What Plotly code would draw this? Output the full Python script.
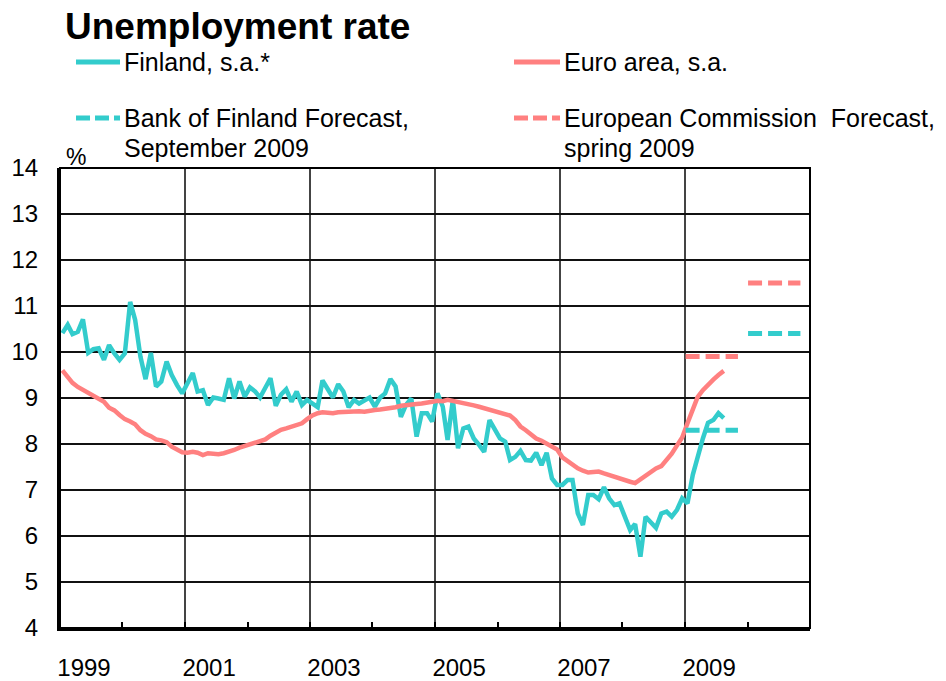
import numpy as np
import pandas as pd
import plotly.graph_objects as go

# Monthly unemployment rates, Jan 1999 - Aug 2009 (%)
finland = [
    10.41, 10.59, 10.39, 10.44, 10.71, 9.98, 10.06, 10.08, 9.83, 10.15, 9.97, 9.83,
    9.97, 11.09, 10.70, 9.90, 9.41, 9.98, 9.25, 9.36, 9.79, 9.50, 9.28, 9.10,
    9.32, 9.54, 9.14, 9.17, 8.85, 9.01, 8.99, 8.96, 9.43, 8.99, 9.36, 9.03,
    9.23, 9.14, 9.01, 9.25, 9.43, 8.83, 9.07, 9.19, 8.92, 9.14, 8.85, 8.96,
    8.88, 8.80, 9.38, 9.17, 9.01, 9.30, 9.14, 8.80, 8.96, 8.88, 8.96, 9.01,
    8.81, 9.01, 9.10, 9.41, 9.25, 8.59, 8.85, 8.99, 8.16, 8.67, 8.67, 8.49,
    9.10, 8.81, 8.09, 8.96, 7.91, 8.34, 8.38, 8.12, 7.98, 7.83, 8.52, 8.30,
    8.12, 8.05, 7.65, 7.72, 7.85, 7.65, 7.64, 7.81, 7.54, 7.81, 7.25, 7.11,
    7.11, 7.22, 7.22, 6.49, 6.24, 6.89, 6.89, 6.80, 7.06, 6.82, 6.67, 6.71,
    6.42, 6.13, 6.26, 5.55, 6.42, 6.28, 6.18, 6.49, 6.53, 6.42, 6.57, 6.82,
    6.71, 7.33, 7.72, 8.12, 8.46, 8.52, 8.67, 8.56,
]
euro_area = [
    9.60, 9.45, 9.33, 9.24, 9.18, 9.12, 9.05, 8.99, 8.92, 8.79, 8.73, 8.63,
    8.54, 8.49, 8.43, 8.30, 8.22, 8.17, 8.10, 8.08, 8.04, 7.94, 7.88, 7.82,
    7.81, 7.83, 7.81, 7.76, 7.80, 7.79, 7.78, 7.80, 7.83, 7.87, 7.92, 7.96,
    8.00, 8.04, 8.06, 8.10, 8.18, 8.26, 8.31, 8.34, 8.37, 8.40, 8.45, 8.54,
    8.62, 8.67, 8.69, 8.68, 8.67, 8.69, 8.70, 8.70, 8.72, 8.71, 8.70, 8.73,
    8.74, 8.75, 8.76, 8.78, 8.80, 8.83, 8.85, 8.87, 8.87, 8.88, 8.89, 8.92,
    8.94, 8.93, 8.96, 8.94, 8.92, 8.90, 8.87, 8.84, 8.81, 8.78, 8.75, 8.71,
    8.68, 8.64, 8.62, 8.52, 8.38, 8.30, 8.20, 8.12, 8.07, 8.01, 7.96, 7.88,
    7.71, 7.62, 7.54, 7.47, 7.42, 7.38, 7.39, 7.40, 7.36, 7.32, 7.29, 7.26,
    7.22, 7.18, 7.15, 7.23, 7.32, 7.40, 7.47, 7.52, 7.65, 7.79, 7.97, 8.14,
    8.45, 8.72, 9.02, 9.17, 9.30, 9.40, 9.50, 9.59,
]

# Annual forecasts
forecast_years = [2009, 2010]
bof_forecast = [8.3, 10.4]        # Bank of Finland, September 2009
ec_forecast = [9.9, 11.5]         # European Commission, spring 2009

# Axis labels
year_labels = [1999, 2001, 2003, 2005, 2007, 2009]
minor_years = [2000, 2002, 2004, 2006, 2008, 2010]
y_ticks = list(range(4, 15))

TEAL = "#33CCCC"
SALMON = "#FF8080"
FONT = "Liberation Sans, Arial, sans-serif"

W, H = 946, 681
L, R, T, B = 60, 136, 168, 53
PW, PH = W - L - R, H - T - B


def px(xp):
    return (xp - L) / PW


def py(yp):
    return (H - B - yp) / PH


months = pd.date_range("1999-01-01", periods=len(finland), freq="MS") + pd.Timedelta(days=14)
months_ea = pd.date_range("1999-01-01", periods=len(euro_area), freq="MS") + pd.Timedelta(days=14)

fig = go.Figure()
fig.add_trace(go.Scatter(x=months, y=finland, mode="lines",
                         line=dict(color=TEAL, width=4.5), showlegend=False))
fig.add_trace(go.Scatter(x=months_ea, y=euro_area, mode="lines",
                         line=dict(color=SALMON, width=4.5), showlegend=False))


def forecast_segments(years, values):
    xs, ys = [], []
    for yr, v in zip(years, values):
        xs += [pd.Timestamp(f"{yr}-01-04"), pd.Timestamp(f"{yr}-11-06"), None]
        ys += [v, v, None]
    return xs, ys


for vals, col in ((bof_forecast, TEAL), (ec_forecast, SALMON)):
    fx, fy = forecast_segments(forecast_years, vals)
    fig.add_trace(go.Scatter(x=fx, y=fy, mode="lines", connectgaps=False,
                             line=dict(color=col, width=5, dash="14px,6px"),
                             showlegend=False))

# Legend drawn in the header area
legend_items = [
    (76, 120, 62, TEAL, "solid", ["Finland, s.a.*"]),
    (514, 560, 62, SALMON, "solid", ["Euro area, s.a."]),
    (76, 120, 118, TEAL, "14px,5px", ["Bank of Finland Forecast,", "September 2009"]),
    (514, 560, 118, SALMON, "14px,5px", ["European Commission  Forecast,", "spring 2009"]),
]
shapes = []
annotations = []
for x0, x1, yc, col, dash, lines in legend_items:
    shapes.append(dict(type="line", xref="paper", yref="paper",
                       x0=px(x0), x1=px(x1), y0=py(yc), y1=py(yc),
                       line=dict(color=col, width=5, dash=dash)))
    for i, txt in enumerate(lines):
        annotations.append(dict(xref="paper", yref="paper", x=px(x1 + 2), y=py(yc + 30 * i),
                                xanchor="left", yanchor="middle", showarrow=False,
                                text=txt.replace("  ", "&nbsp; "),
                                font=dict(family=FONT, size=25, color="black")))

annotations.append(dict(xref="paper", yref="paper", x=px(63), y=py(26),
                        xanchor="left", yanchor="middle", showarrow=False,
                        text="<b>Unemployment rate</b>",
                        font=dict(family=FONT, size=37, color="black")))
annotations.append(dict(xref="paper", yref="paper", x=px(76), y=py(157),
                        xanchor="center", yanchor="middle", showarrow=False,
                        text="%", font=dict(family=FONT, size=23, color="black")))

# Thin frame on top/right of plot area
shapes.append(dict(type="rect", xref="paper", yref="paper", x0=0, x1=1, y0=0, y1=1,
                   line=dict(color="black", width=2), layer="above"))

fig.update_layout(
    width=W, height=H,
    margin=dict(l=L, r=R, t=T, b=B, autoexpand=False),
    paper_bgcolor="white", plot_bgcolor="white",
    font=dict(family=FONT, size=24, color="black"),
    shapes=shapes, annotations=annotations,
    showlegend=False,
    xaxis=dict(
        type="date",
        range=["1999-01-01", "2011-01-01"],
        tickmode="array",
        tickvals=[f"{y}-01-01" for y in year_labels],
        ticktext=[str(y) for y in year_labels],
        ticks="inside", ticklen=6, tickwidth=1.5, tickcolor="black",
        ticklabelshift=24, ticklabelstandoff=16,
        showgrid=True, gridcolor="#444444", gridwidth=2,
        showline=True, linecolor="black", linewidth=3,
        minor=dict(tickmode="array", tickvals=[f"{y}-01-01" for y in minor_years],
                   ticks="inside", ticklen=6, tickwidth=1.5, tickcolor="black",
                   showgrid=False),
        tickfont=dict(family=FONT, size=24, color="black"),
        zeroline=False, fixedrange=True,
    ),
    yaxis=dict(
        range=[4, 14],
        tickmode="array", tickvals=y_ticks, ticktext=[str(v) for v in y_ticks],
        ticks="", ticklabelstandoff=14,
        showgrid=True, gridcolor="#111111", gridwidth=1.5,
        showline=True, linecolor="black", linewidth=3,
        tickfont=dict(family=FONT, size=24, color="black"),
        zeroline=False, fixedrange=True,
    ),
)

fig.write_html("out.html")
